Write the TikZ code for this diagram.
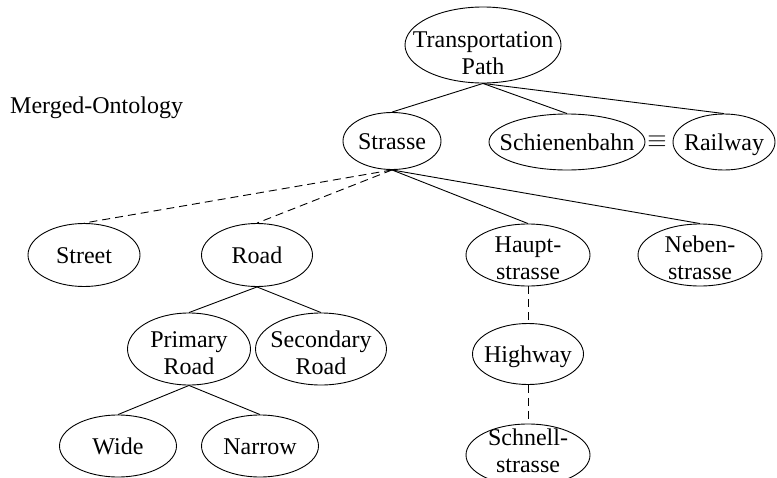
\documentclass[tikz,border=0pt]{standalone}
\usepackage{fontspec}
\setmainfont{Liberation Serif}
\usetikzlibrary{shapes.geometric}
\begin{document}
\begin{tikzpicture}[x=1pt,y=-1pt,
  concept/.style={draw, ellipse, inner sep=0pt, line width=0.9pt},
  lbl/.style={font=\fontsize{24}{27}\selectfont, inner sep=0pt, text height=16pt, text depth=0pt},
  lbltwo/.style={font=\fontsize{24}{27}\selectfont, inner sep=0pt, align=center, text height=44pt, text depth=0pt},
  isa/.style={line width=0.9pt},
  match/.style={line width=0.9pt, dash pattern=on 8pt off 5pt}]
\useasboundingbox (0,0) rectangle (777,477);

% concept ellipses
\node[concept, minimum width=156, minimum height=76] (tp) at (483,45) {};
\node[concept, minimum width=98, minimum height=57] (strasse) at (392,141) {};
\node[concept, minimum width=156, minimum height=56] (schiene) at (567,142) {};
\node[concept, minimum width=102, minimum height=56] (railway) at (724,142) {};
\node[concept, minimum width=112, minimum height=63] (street) at (84,255) {};
\node[concept, minimum width=111, minimum height=63] (road) at (257,255) {};
\node[concept, minimum width=124, minimum height=62] (haupt) at (528,255) {};
\node[concept, minimum width=124, minimum height=62] (neben) at (700,255) {};
\node[concept, minimum width=123, minimum height=72] (primary) at (189,349) {};
\node[concept, minimum width=131, minimum height=72] (secondary) at (321,349) {};
\node[concept, minimum width=111, minimum height=61] (highway) at (528,354) {};
\node[concept, minimum width=124, minimum height=62] (schnell) at (528,455) {};
\node[concept, minimum width=117, minimum height=62] (wide) at (118,446) {};
\node[concept, minimum width=117, minimum height=62] (narrow) at (260,446) {};

% concept names
\node[lbltwo, yshift=-7pt] (tp-t) at (tp) {Transportation\\Path};
\node[lbl] (strasse-t) at (strasse) {Strasse};
\node[lbl] (schiene-t) at (schiene) {Schienenbahn};
\node[lbl] (railway-t) at (railway) {Railway};
\node[lbl] (street-t) at (street) {Street};
\node[lbl] (road-t) at (road) {Road};
\node[lbltwo, yshift=-2pt] (haupt-t) at (haupt) {Haupt-\\strasse};
\node[lbltwo, yshift=-2pt] (neben-t) at (neben) {Neben-\\strasse};
\node[lbltwo, yshift=-3pt] (primary-t) at (primary) {Primary\\Road};
\node[lbltwo, yshift=-3pt] (secondary-t) at (secondary) {Secondary\\Road};
\node[lbl] (highway-t) at (highway) {Highway};
\node[lbltwo, yshift=5pt] (schnell-t) at (schnell) {Schnell-\\strasse};
\node[lbl] (wide-t) at (wide) {Wide};
\node[lbl] (narrow-t) at (narrow) {Narrow};

\node[lbl, anchor=west] (title) at (10,105) {Merged-Ontology};
\node[font=\fontsize{32}{32}\selectfont, inner sep=0pt] (eq) at (657,142) {$\equiv$};

% hierarchy links
\draw[isa] (tp.south) -- (strasse.north);
\draw[isa] (tp.south) -- (schiene.north);
\draw[isa] (tp.south) -- (railway.north);
\draw[match] (strasse.south) -- (street.north);
\draw[match] (strasse.south) -- (road.north);
\draw[isa] (strasse.south) -- (haupt.north);
\draw[isa] (strasse.south) -- (neben.north);
\draw[isa] (road.south) -- (primary.north);
\draw[isa] (road.south) -- (secondary.north);
\draw[isa] (primary.south) -- (wide.north);
\draw[isa] (primary.south) -- (narrow.north);
\draw[match] (haupt.south) -- (highway.north);
\draw[match] (highway.south) -- (schnell.north);
\end{tikzpicture}
\end{document}
